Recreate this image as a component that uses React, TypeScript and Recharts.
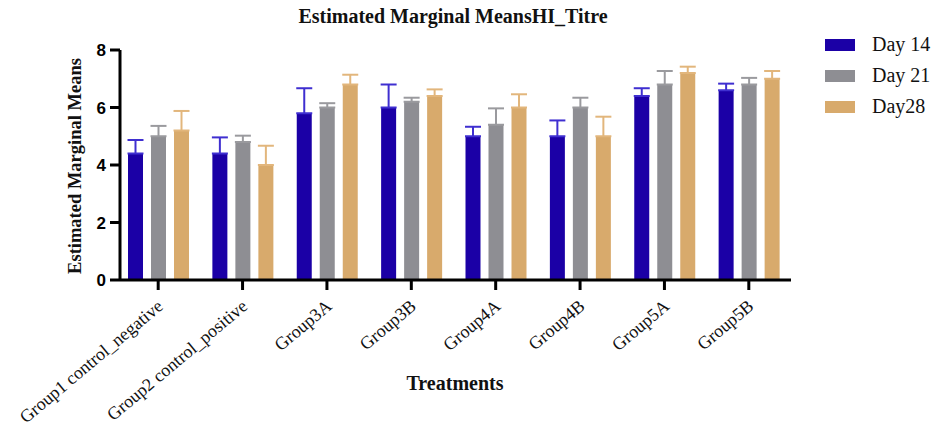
import React from "react";
import { BarChart, Bar, XAxis, YAxis, ErrorBar } from "recharts";

const BLUE = "#1b00a6";
const GRAY = "#8e8e93";
const TAN = "#d8aa6c";
const SERIF = "'Liberation Serif', 'Times New Roman', serif";

const groups = [
  "Group1 control_negative",
  "Group2 control_positive",
  "Group3A",
  "Group3B",
  "Group4A",
  "Group4B",
  "Group5A",
  "Group5B",
];
const day14 = [4.4, 4.4, 5.8, 6.0, 5.0, 5.0, 6.4, 6.6];
const day21 = [5.0, 4.8, 6.0, 6.2, 5.4, 6.0, 6.8, 6.8];
const day28 = [5.2, 4.0, 6.8, 6.4, 6.0, 5.0, 7.2, 7.0];
// upper error only
const err14 = [0.47, 0.56, 0.87, 0.8, 0.33, 0.55, 0.27, 0.23];
const err21 = [0.36, 0.22, 0.15, 0.14, 0.57, 0.34, 0.47, 0.23];
const err28 = [0.68, 0.67, 0.34, 0.23, 0.46, 0.68, 0.22, 0.27];
const yTicks = [0, 2, 4, 6, 8];

const series = [
  { key: "d14", err: "e14", name: "Day 14", color: BLUE, errColor: "#3f2fd0" },
  { key: "d21", err: "e21", name: "Day 21", color: GRAY, errColor: "#9a9a9e" },
  { key: "d28", err: "e28", name: "Day28", color: TAN, errColor: "#e2b67c" },
];

const data = groups.map((g, i) => ({
  group: g,
  d14: day14[i],
  d21: day21[i],
  d28: day28[i],
  e14: [0, err14[i]],
  e21: [0, err21[i]],
  e28: [0, err28[i]],
}));

function GroupTick(props: any) {
  const { x, y, payload } = props;
  return (
    <g transform={`translate(${x + 6},${y + 18})`}>
      <text
        x={0}
        y={0}
        textAnchor="end"
        transform="rotate(-40)"
        fontFamily={SERIF}
        fontSize={18}
        fill="#111"
      >
        {payload.value}
      </text>
    </g>
  );
}

const textStyle = (size: number): React.CSSProperties => ({
  position: "absolute",
  whiteSpace: "nowrap",
  fontFamily: SERIF,
  fontWeight: 700,
  fontSize: size,
  color: "#111",
});

export default function App() {
  return (
    <div style={{ position: "absolute", left: 0, top: 0, width: 939, height: 431, background: "#fff" }}>
      <BarChart
        width={939}
        height={431}
        data={data}
        margin={{ top: 50, right: 148, bottom: 0, left: 0 }}
        barSize={15}
        barGap={8}
      >
        <XAxis
          dataKey="group"
          height={151}
          padding={{ left: -4, right: 0 }}
          axisLine={{ stroke: "#000", strokeWidth: 3 }}
          tickLine={{ stroke: "#000", strokeWidth: 3 }}
          tickSize={10}
          tickMargin={0}
          interval={0}
          tick={<GroupTick />}
        />
        <YAxis
          width={120}
          domain={[0, 8]}
          ticks={yTicks}
          axisLine={{ stroke: "#000", strokeWidth: 3 }}
          tickLine={{ stroke: "#000", strokeWidth: 3 }}
          tickSize={10}
          tickMargin={4}
          tick={{ fill: "#000", fontSize: 17, fontWeight: 700, fontFamily: "'Liberation Sans', Arial, sans-serif" }}
        />
        {series.map((s) => (
          <Bar key={s.key} dataKey={s.key} name={s.name} fill={s.color} isAnimationActive={false}>
            <ErrorBar dataKey={s.err} direction="y" width={8} strokeWidth={2} stroke={s.errColor} />
          </Bar>
        ))}
      </BarChart>

      {/* legend */}
      <div style={{ position: "absolute", left: 825, top: 29, fontFamily: SERIF, fontSize: 20, color: "#111" }}>
        {series.map((s) => (
          <div key={s.key} style={{ display: "flex", alignItems: "center", height: 31 }}>
            <span style={{ width: 30, height: 12, background: s.color, marginRight: 17 }} />
            <span>{s.name}</span>
          </div>
        ))}
      </div>

      <div style={{ ...textStyle(20), left: 453, top: 16, transform: "translate(-50%,-50%)" }}>
        Estimated Marginal MeansHI_Titre
      </div>
      <div style={{ ...textStyle(18.5), left: 75, top: 166, transform: "translate(-50%,-50%) rotate(-90deg)" }}>
        Estimated Marginal Means
      </div>
      <div style={{ ...textStyle(20), left: 455, top: 383, transform: "translate(-50%,-50%)" }}>
        Treatments
      </div>
    </div>
  );
}
